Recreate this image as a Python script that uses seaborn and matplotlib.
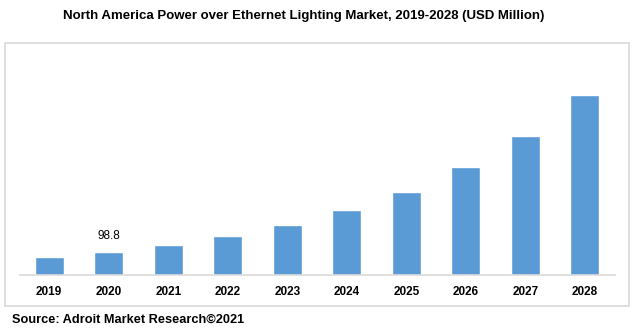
import matplotlib
matplotlib.use("Agg")
import matplotlib.pyplot as plt
import seaborn as sns
import pandas as pd
from matplotlib.patches import FancyBboxPatch

years = ["2019", "2020", "2021", "2022", "2023", "2024", "2025", "2026", "2027", "2028"]
values = [77.3, 98.8, 130.0, 169.0, 215.0, 279.0, 357.0, 464.0, 597.0, 773.0]
label_year = "2020"
label_text = "98.8"
title = "North America Power over Ethernet Lighting Market, 2019-2028 (USD Million)"
source = "Source: Adroit Market Research\u00a92021"

sns.set_theme(style="white")
plt.rcParams["font.family"] = ["Liberation Sans", "DejaVu Sans"]

W, H = 634, 330
fig = plt.figure(figsize=(W / 100, H / 100), dpi=100)

# outer border
border = FancyBboxPatch((5 / W, 1 - 306 / H), (629 - 5) / W, (306 - 43) / H,
                        boxstyle="square,pad=0", transform=fig.transFigure,
                        fill=False, edgecolor="#D9D9D9", linewidth=1.2)
fig.patches.append(border)

ax_left, ax_right = 19.5 / W, 614.5 / W
ax_bottom, ax_top = 1 - 275 / H, 1 - 60 / H
ax = fig.add_axes([ax_left, ax_bottom, ax_right - ax_left, ax_top - ax_bottom])

df = pd.DataFrame({"year": years, "value": values})
sns.barplot(data=df, x="year", y="value", color="#5B9BD5", saturation=1,
            width=0.49, ax=ax)

ax.set_xlim(-0.5, len(years) - 0.5)
ax.set_ylim(0, 215 * 98.8 / 23)
ax.set_xlabel("")
ax.set_ylabel("")
ax.set_yticks([])
for s in ["top", "left", "right"]:
    ax.spines[s].set_visible(False)
ax.spines["bottom"].set_color("#D9D9D9")
ax.spines["bottom"].set_linewidth(1.2)
ax.tick_params(axis="x", length=0, pad=8, colors="#000000")
for lab in ax.get_xticklabels():
    lab.set_fontweight("bold")
    lab.set_fontsize(8.5)

i = years.index(label_year)
ax.annotate(label_text, (i, values[i]), xytext=(0, 7), textcoords="offset points",
            ha="center", va="bottom", fontsize=8.5, color="#000000")

fig.text(304 / W, 1 - 16 / H, title, ha="center", va="center",
         fontsize=9.5, fontweight="bold", color="#000000")
fig.text(12 / W, 1 - 320 / H, source, ha="left", va="center",
         fontsize=9.2, fontweight="bold", color="#000000")

fig.savefig("out.png", dpi=100, facecolor="white")
